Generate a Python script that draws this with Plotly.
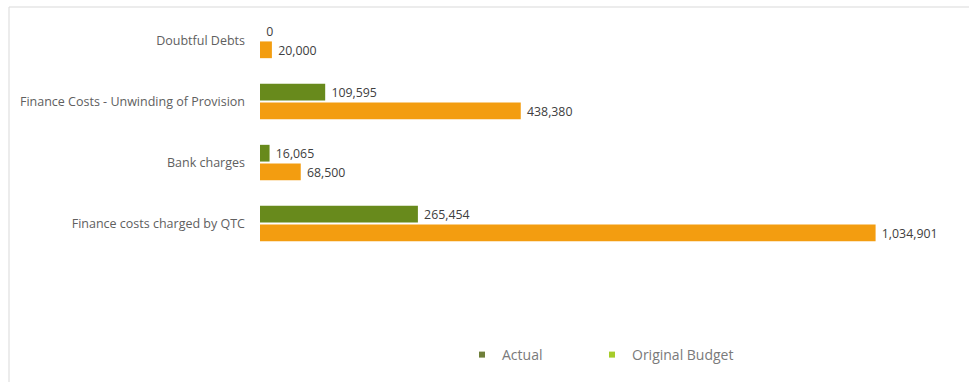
import plotly.graph_objects as go

categories = [
    "Doubtful Debts",
    "Finance Costs - Unwinding of Provision",
    "Bank charges",
    "Finance costs charged by QTC",
]
actual = [0, 109595, 16065, 265454]
original_budget = [20000, 438380, 68500, 1034901]

series_names = ["Actual", "Original Budget"]
bar_colors = ["#688a1c", "#f39d10"]
legend_colors = ["#6f7f3a", "#a6cc2a"]

W, H = 969, 382
L, R, T, B = 260, 19, 10, 128

fig = go.Figure()
for name, vals, col in zip(series_names, [actual, original_budget], bar_colors):
    fig.add_trace(go.Bar(
        y=categories, x=vals, orientation="h", name=name,
        marker=dict(color=col, line=dict(width=0)),
        text=[f"\u00a0{v:,}" for v in vals], textposition="outside",
        textfont=dict(size=14, color="#404040", family="Open Sans"),
        cliponaxis=False, showlegend=False,
    ))

pw = W - L - R
ph = H - T - B

# each legend entry sits in its own legend box, drawn as a small square marker
legend_ids = ["legend", "legend2"]
legend_left_px = [462, 592]
for name, col, lid in zip(series_names, legend_colors, legend_ids):
    fig.add_trace(go.Scatter(
        x=[None], y=[None], mode="markers", name=name, legend=lid,
        marker=dict(symbol="square", size=6, color=col),
    ))

legend_style = dict(
    orientation="h", xanchor="left", yanchor="middle",
    y=-(355 - (T + ph)) / ph,
    font=dict(size=14, color="#7a7a7a"), itemwidth=30,
    bgcolor="rgba(0,0,0,0)",
)

fig.add_shape(type="line", xref="paper", yref="paper",
              x0=(9 - L) / pw, x1=(W + 5 - L) / pw,
              y0=(ph + T - 7) / ph, y1=(ph + T - 7) / ph,
              line=dict(color="#d9d9d9", width=1))
fig.add_shape(type="line", xref="paper", yref="paper",
              x0=(9 - L) / pw, x1=(9 - L) / pw,
              y0=(ph + T - 7) / ph, y1=(ph + T - H - 5) / ph,
              line=dict(color="#d9d9d9", width=1))

fig.update_layout(
    width=W, height=H,
    margin=dict(l=L, r=R, t=T, b=B),
    paper_bgcolor="white", plot_bgcolor="white",
    barmode="group", bargap=0.39, bargroupgap=0.1,
    font=dict(family="Open Sans", size=12, color="#595959"),
    xaxis=dict(range=[0, 1160000], showgrid=False, zeroline=False,
               showticklabels=False, showline=False, fixedrange=True),
    yaxis=dict(autorange="reversed", showgrid=False, zeroline=False,
               showline=False, ticks="", ticklabelstandoff=14,
               tickfont=dict(size=12.5, color="#606060")),
    legend=dict(x=(legend_left_px[0] - L) / pw, **legend_style),
    legend2=dict(x=(legend_left_px[1] - L) / pw, **legend_style),
)

fig.write_html("out.html")
